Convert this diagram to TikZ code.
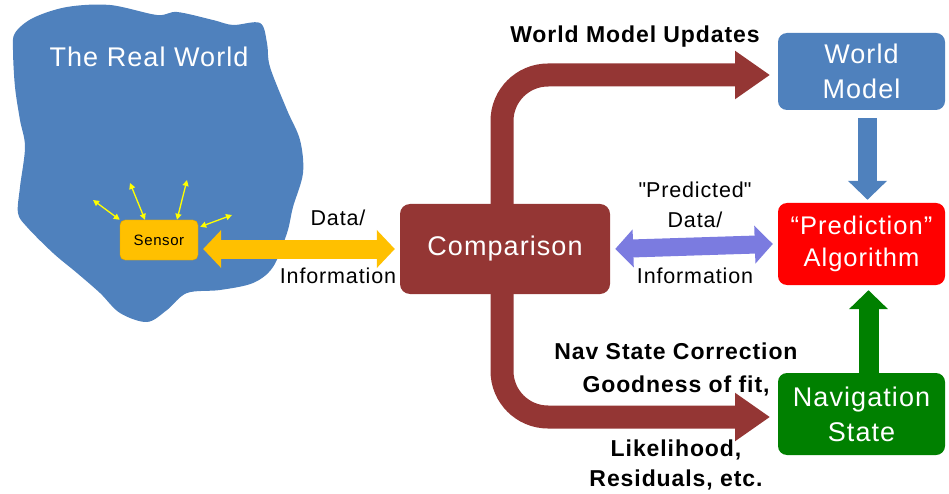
\documentclass[tikz,border=0pt]{standalone}
\usepackage{fontspec}
\setmainfont{Liberation Sans}[LetterSpace=4]
\usetikzlibrary{arrows.meta}
\definecolor{worldblue}{HTML}{4F81BD}
\definecolor{cmpred}{HTML}{943634}
\definecolor{sensorgold}{HTML}{FFC000}
\definecolor{predviolet}{HTML}{7B7BE0}
\definecolor{navgreen}{HTML}{008000}
\definecolor{raygold}{HTML}{FFFF00}

\begin{document}
\begin{tikzpicture}
  [x=1pt,y=-1pt,every node/.style={text=white,align=center,font=\fontsize{27}{35}\selectfont}]
  \tikzstyle{unitbox} = [rounded corners=9pt,minimum width=167pt,inner sep=2pt]
  \tikzstyle{plaintext} = [text=black,font=\fontsize{21.5}{30}\selectfont]
  \tikzstyle{boldtext} = [text=black,font=\bfseries\fontsize{23}{33}\selectfont]
  \tikzstyle{ray} = [raygold,line width=1.3pt,{Triangle[length=6pt,width=6pt]}-{Triangle[length=6pt,width=6pt]}]
  \tikzstyle{flowarrow} = [line width=19pt,{Triangle[length=18pt,width=37pt]}-{Triangle[length=18pt,width=37pt]}]
  \tikzstyle{feedarrow} = [line width=19pt,-{Triangle[length=19pt,width=38pt]}]
  \tikzstyle{bentarrow} = [cmpred,line width=23pt,rounded corners=46pt,-{Triangle[length=35pt,width=46pt]}]
  \useasboundingbox (0,0) rectangle (949,494);

  % the real world
  \fill[worldblue] plot[smooth cycle,tension=0.55] coordinates {
    (15,33) (33,18) (67,7) (110,5) (157,15) (177,12) (213,20) (233,25) (260,23)
    (267,43) (270,67) (287,110) (300,140) (303,173) (293,207) (287,233) (273,267)
    (253,283) (220,290) (187,293) (167,310) (147,322) (120,313) (100,293) (77,273)
    (53,253) (27,227) (18,213) (20,187) (25,147) (20,120) (15,87) (13,50)};
  \node (world) at (149,57) {The Real World};
  \node[fill=sensorgold,draw=sensorgold!85!black,rounded corners=5pt,minimum width=78pt,minimum height=40pt,
        text=black,font=\fontsize{15}{17}\selectfont] (sensor) at (159,240) {Sensor};
  \coordinate (ray1) at (93,200);
  \coordinate (ray2) at (130,183);
  \coordinate (ray3) at (187,180);
  \coordinate (ray4) at (232,215);
  \foreach \anc/\dx/\dy/\dst in {north west/0/0/ray1,north/-14/0/ray2,north/18/0/ray3,north east/2/-7/ray4}
    \draw[ray] ([xshift=\dx pt,yshift=\dy pt]sensor.\anc) -- (\dst);

  % boxes
  \node[fill=cmpred,rounded corners=10pt,minimum width=210pt,minimum height=90pt] (cmp) at (505,249) {Comparison};
  \node[unitbox,fill=worldblue,minimum height=77pt] (wm) at (861.5,71.5) {World\\Model};
  \node[unitbox,fill=red,minimum height=82pt,font=\fontsize{25.5}{32}\selectfont] (pred) at (861.5,244) {``Prediction''\\Algorithm};
  \node[unitbox,fill=navgreen,minimum height=82pt] (nav) at (861.5,414) {Navigation\\State};

  % arrows
  \draw[flowarrow,sensorgold] ([xshift=5pt]sensor.east |- cmp.west) -- ([xshift=-5pt]cmp.west);
  \draw[flowarrow,predviolet,line width=18pt] ([xshift=5pt]cmp.east) -- ([xshift=-5pt]pred.west);
  \draw[feedarrow,worldblue,shorten <=8pt,shorten >=3pt] ([xshift=6pt]wm.south) -- ([xshift=6pt]pred.north);
  \draw[feedarrow,navgreen,line width=20pt,shorten >=5pt] ([xshift=7pt]nav.north) -- ([xshift=7pt]pred.south);
  \coordinate (upd) at (770,75);
  \coordinate (corr) at (770,417);
  \draw[bentarrow] ([xshift=-3pt]cmp.north) |- (upd);
  \draw[bentarrow] ([xshift=-3pt]cmp.south) |- (corr);

  % labels
  \node[plaintext] (data1) at (338,218) {Data/};
  \node[plaintext] (info1) at (338,276) {Information};
  \node[plaintext] (data2) at (695,205) {\textquotedbl Predicted\textquotedbl\\Data/};
  \node[plaintext] (info2) at (695,276) {Information};
  \node[boldtext] (updlbl) at (635,37) {World Model Updates};
  \node[boldtext] (corrlbl) at (676,369) {Nav State Correction\\Goodness of fit,};
  \node[boldtext,font=\bfseries\fontsize{23}{30}\selectfont] (fitlbl) at (676,465) {Likelihood,\\Residuals, etc.};
\end{tikzpicture}
\end{document}
